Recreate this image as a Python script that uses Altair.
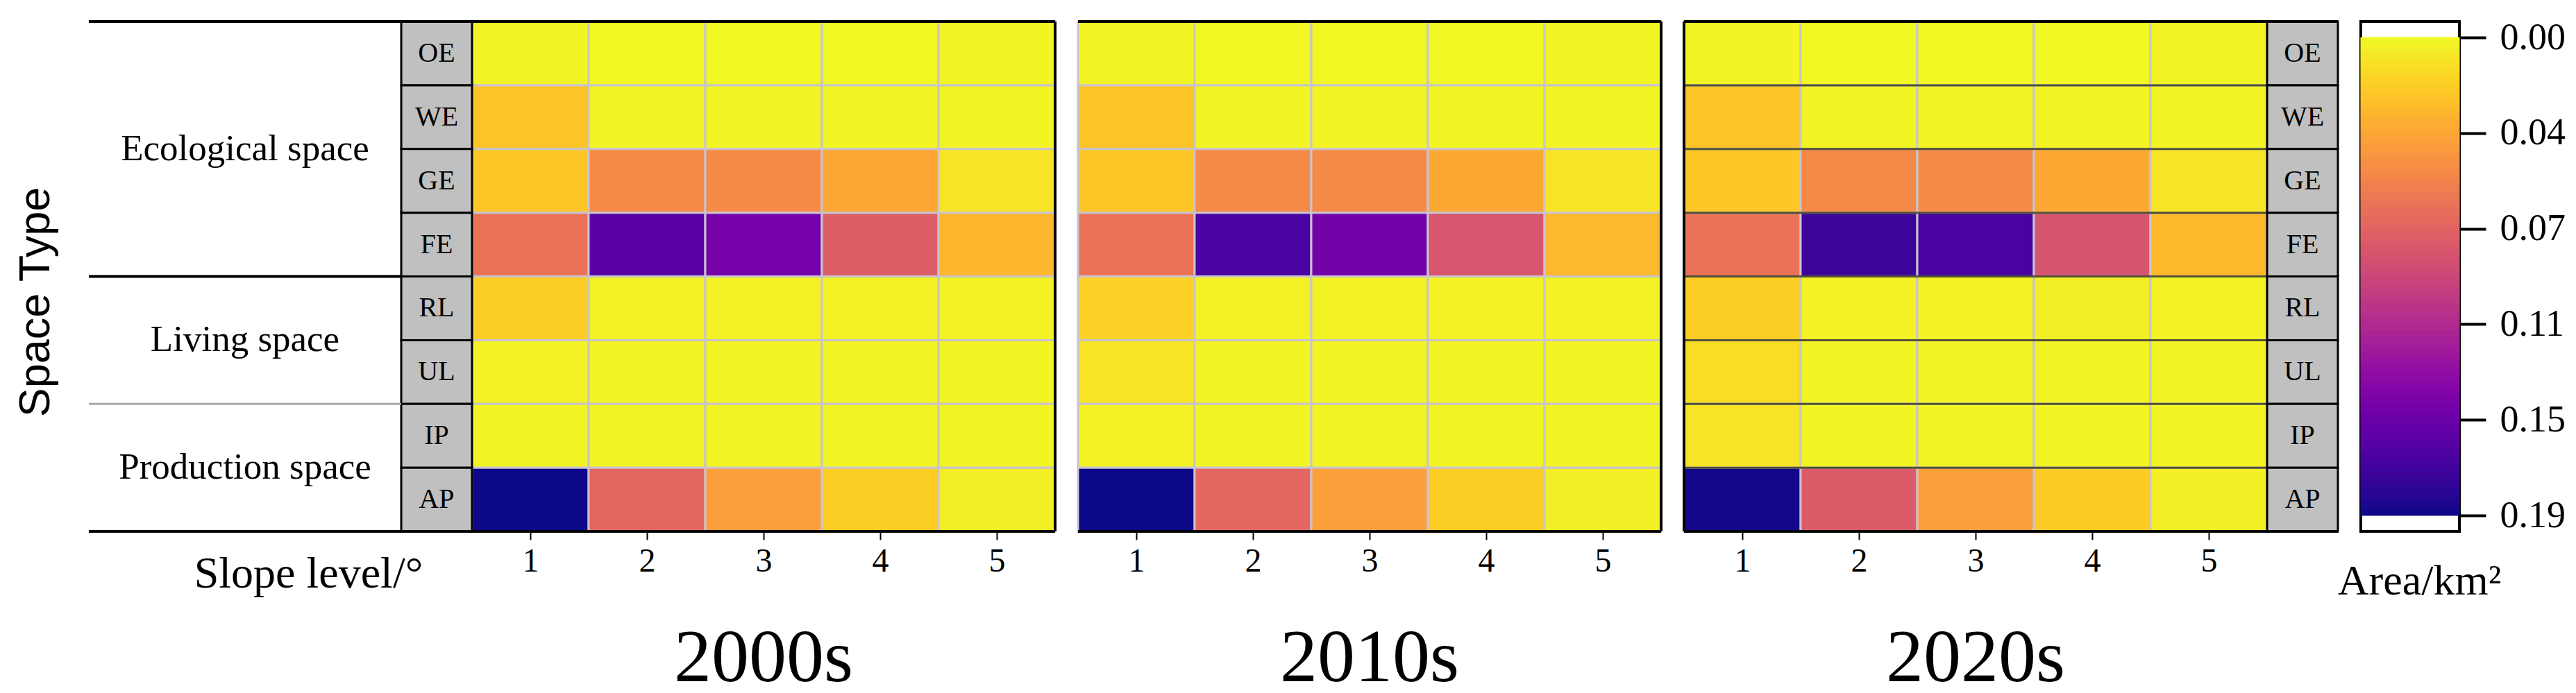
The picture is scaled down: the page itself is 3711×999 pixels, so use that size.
import altair as alt
import pandas as pd
import numpy as np

# ---------------- data ----------------
space_types = ["OE", "WE", "GE", "FE", "RL", "UL", "IP", "AP"]
slope_levels = [1, 2, 3, 4, 5]
space_groups = ["Ecological space", "Living space", "Production space"]
group_sizes = [4, 2, 2]
decades = ["2000s", "2010s", "2020s"]

area_2000s = [
    [0.002, 0.001, 0.001, 0.001, 0.002],   # OE
    [0.023, 0.002, 0.002, 0.002, 0.002],   # WE
    [0.022, 0.052, 0.052, 0.037, 0.009],   # GE
    [0.066, 0.158, 0.144, 0.079, 0.030],   # FE
    [0.019, 0.003, 0.003, 0.003, 0.003],   # RL
    [0.003, 0.002, 0.002, 0.002, 0.002],   # UL
    [0.002, 0.002, 0.002, 0.002, 0.002],   # IP
    [0.1875, 0.073, 0.041, 0.019, 0.004],  # AP
]
area_2010s = [
    [0.002, 0.001, 0.001, 0.001, 0.002],
    [0.023, 0.002, 0.002, 0.002, 0.002],
    [0.022, 0.053, 0.052, 0.036, 0.009],
    [0.066, 0.165, 0.146, 0.084, 0.029],
    [0.017, 0.003, 0.003, 0.003, 0.003],
    [0.008, 0.002, 0.002, 0.002, 0.002],
    [0.003, 0.002, 0.002, 0.002, 0.002],
    [0.1875, 0.073, 0.041, 0.019, 0.004],
]
area_2020s = [
    [0.002, 0.001, 0.001, 0.001, 0.002],
    [0.023, 0.002, 0.002, 0.002, 0.002],
    [0.022, 0.053, 0.052, 0.036, 0.009],
    [0.066, 0.171, 0.165, 0.085, 0.028],
    [0.019, 0.003, 0.003, 0.004, 0.003],
    [0.012, 0.002, 0.002, 0.002, 0.002],
    [0.009, 0.002, 0.002, 0.002, 0.002],
    [0.186, 0.080, 0.041, 0.020, 0.004],
]
decade_values = [area_2000s, area_2010s, area_2020s]

legend_ticks = [0.0, 0.0375, 0.075, 0.1125, 0.15, 0.1875]
VMAX = 0.1875

# ---------------- layout / style ----------------
SERIF = "Liberation Serif"
SANS = "Liberation Sans"
CELL = 168
STRIP_W = 102
LEFT_W = 450
PANEL_H = 735
GAP = 33
CB_W = 142
STRIP = STRIP_W / CELL
LEFT = LEFT_W / CELL
NROW = len(space_types)
NCOL = len(slope_levels)
GRID = "#c9c3d0"

color_scale = alt.Scale(scheme="plasma", reverse=True, domain=[0, VMAX])
ys = alt.Scale(domain=[0, NROW], reverse=True, nice=False, zero=False)


def cells(values):
    rows = []
    for i, t in enumerate(space_types):
        for j, s in enumerate(slope_levels):
            rows.append({"type": t, "slope": s, "area": values[i][j],
                         "c0": j, "c1": j + 1, "r0": i, "r1": i + 1})
    return pd.DataFrame(rows)


def strip_df(s0):
    return pd.DataFrame({
        "type": space_types,
        "r0": list(range(NROW)),
        "r1": [i + 1 for i in range(NROW)],
        "rm": [i + 0.5 for i in range(NROW)],
        "s0": [s0] * NROW,
        "s1": [s0 + STRIP] * NROW,
        "sm": [s0 + STRIP / 2] * NROW,
    })


def x_axis(title=None, **kw):
    args = dict(values=[j + 0.5 for j in range(NCOL)], labelExpr="datum.value + 0.5",
                grid=False, domain=False, ticks=True, tickSize=12, tickWidth=2,
                tickColor="black", labelFont=SERIF, labelFontSize=48, labelColor="black",
                labelPadding=7, labelFlush=False)
    if title is not None:
        args.update(title=title, titleFont=SERIF, titleFontSize=64, titleFontWeight="normal",
                    titleColor="black")
        args.update(kw)
    else:
        args.update(title=None)
    return alt.Axis(**args)


def make_panel(dec_index, xs, xax, yax, left_labels=False, right_strip=False,
               title_dx=0, title_offset=70):
    X = lambda f: alt.X(f, type="quantitative", scale=xs, axis=xax)
    Y = lambda f: alt.Y(f, type="quantitative", scale=ys, axis=yax)
    layers = []
    heat = alt.Chart(cells(decade_values[dec_index])).mark_rect(
        stroke=GRID, strokeWidth=3).encode(
        x=X("c0"), x2="c1", y=Y("r0"), y2="r1",
        color=alt.Color("area:Q", scale=color_scale, legend=None))
    layers.append(heat)

    x_lo, x_hi = 0, NCOL
    if left_labels:
        x_lo = -(LEFT + STRIP)
        sd = strip_df(-STRIP)
    if right_strip:
        x_hi = NCOL + STRIP
        sd = strip_df(NCOL)
        sep = pd.DataFrame({"y": list(range(1, NROW)), "x0": [0] * (NROW - 1),
                            "x1": [NCOL] * (NROW - 1)})
        layers.append(alt.Chart(sep).mark_rule(color="#3c3c1e", strokeWidth=3, opacity=0.85).encode(
            x=X("x0"), x2="x1", y=Y("y")))
    if left_labels or right_strip:
        layers.append(alt.Chart(sd).mark_rect(fill="#c0c0c0", stroke="black", strokeWidth=3).encode(
            x=X("s0"), x2="s1", y=Y("r0"), y2="r1"))
        layers.append(alt.Chart(sd).mark_text(font=SERIF, fontSize=40, color="black").encode(
            x=X("sm"), y=Y("rm"), text="type:N"))

    if left_labels:
        starts = np.cumsum([0] + group_sizes[:-1])
        gdf = pd.DataFrame({
            "name": space_groups,
            "gy": [s + g / 2 for s, g in zip(starts, group_sizes)],
            "gx": [-(STRIP + LEFT / 2)] * len(space_groups),
        })
        layers.append(alt.Chart(gdf).mark_text(font=SERIF, fontSize=53, color="black").encode(
            x=X("gx"), y=Y("gy"), text="name:N"))
        inner = pd.DataFrame({"y": [4], "x0": [x_lo], "x1": [-STRIP]})
        layers.append(alt.Chart(inner).mark_rule(color="black", strokeWidth=4).encode(
            x=X("x0"), x2="x1", y=Y("y")))
        inner2 = pd.DataFrame({"y": [6], "x0": [x_lo], "x1": [-STRIP]})
        layers.append(alt.Chart(inner2).mark_rule(color="#a8a8a8", strokeWidth=3).encode(
            x=X("x0"), x2="x1", y=Y("y")))

    hl = pd.DataFrame({"y": [0, NROW], "x0": [x_lo, x_lo], "x1": [x_hi, x_hi]})
    layers.append(alt.Chart(hl).mark_rule(color="black", strokeWidth=4).encode(
        x=X("x0"), x2="x1", y=Y("y")))
    vx = 0 if right_strip else NCOL
    vl = pd.DataFrame({"x": [vx], "y0": [0], "y1": [NROW]})
    layers.append(alt.Chart(vl).mark_rule(color="black", strokeWidth=4).encode(
        x=X("x"), y=Y("y0"), y2="y1"))

    width = int(round((x_hi - x_lo) * CELL))
    return alt.layer(*layers).properties(
        width=width, height=PANEL_H,
        title=alt.TitleParams(decades[dec_index], orient="bottom", frame="group",
                              anchor="middle", dx=title_dx, offset=title_offset,
                              font=SERIF, fontSize=108, fontWeight="normal",
                              color="black"))


no_y = alt.Axis(labels=False, ticks=False, domain=False, grid=False, title=None)

# panel 1 (with row group labels and type strip)
xs1 = alt.Scale(domain=[-(LEFT + STRIP), NCOL], nice=False, zero=False)
xax1 = x_axis("Slope level/°", titleX=316, titleY=80, titleAlign="center",
              titleBaseline="alphabetic")
yax1 = alt.Axis(labels=False, ticks=False, domain=False, grid=False, title="Space Type",
                titleFont=SANS, titleFontSize=63, titleFontWeight="normal",
                titleColor="black", titleX=-77, titleY=404, titleAngle=-90,
                titleAlign="center", titleBaseline="middle")
p1 = make_panel(0, xs1, xax1, yax1, left_labels=True,
                title_dx=(LEFT_W + STRIP_W + NCOL * CELL / 2) - (LEFT_W + STRIP_W + NCOL * CELL) / 2,
                title_offset=38)

xs2 = alt.Scale(domain=[0, NCOL], nice=False, zero=False)
p2 = make_panel(1, xs2, x_axis(), no_y, title_offset=64)

xs3 = alt.Scale(domain=[0, NCOL + STRIP], nice=False, zero=False)
p3 = make_panel(2, xs3, x_axis(), no_y, right_strip=True,
                title_dx=NCOL * CELL / 2 - (NCOL * CELL + STRIP_W) / 2, title_offset=64)

# colour bar
edges = np.linspace(0, VMAX, 121)
cb_df = pd.DataFrame({"v0": edges[:-1], "v1": edges[1:], "mid": (edges[:-1] + edges[1:]) / 2})
cb_ys = alt.Scale(domain=[0, VMAX], reverse=True, nice=False, zero=False, padding=23)
cb_yax = alt.Axis(orient="right", values=legend_ticks, format=".2f", tickSize=38,
                  tickWidth=4, tickColor="black", labelFont=SERIF, labelFontSize=54,
                  labelColor="black", labelPadding=20, domain=False, grid=False, title=None)
cb_xax = alt.Axis(title="Area/km²", labels=False, ticks=False, domain=False, grid=False,
                  titleFont=SERIF, titleFontSize=62, titleFontWeight="normal",
                  titleColor="black", titleX=84, titleY=90, titleAlign="center",
                  titleBaseline="alphabetic")
cbar = alt.Chart(cb_df).mark_rect(strokeWidth=1).encode(
    x=alt.XDatum(0, type="quantitative", scale=alt.Scale(domain=[0, 1]), axis=cb_xax),
    x2=alt.X2Datum(1),
    y=alt.Y("v0:Q", scale=cb_ys, axis=cb_yax), y2="v1",
    color=alt.Color("mid:Q", scale=color_scale, legend=None),
    stroke=alt.Stroke("mid:Q", scale=color_scale, legend=None),
).properties(width=CB_W, height=PANEL_H,
             view=alt.ViewBackground(stroke="black", strokeWidth=4))

chart = alt.hconcat(p1, p2, p3, cbar, spacing=GAP, bounds="flush").configure_view(
    stroke="transparent").properties(
    padding={"left": 11, "top": 17, "right": 5, "bottom": 0}, background="white")

chart.save("out.html", embed_options={"renderer": "svg", "actions": False})
